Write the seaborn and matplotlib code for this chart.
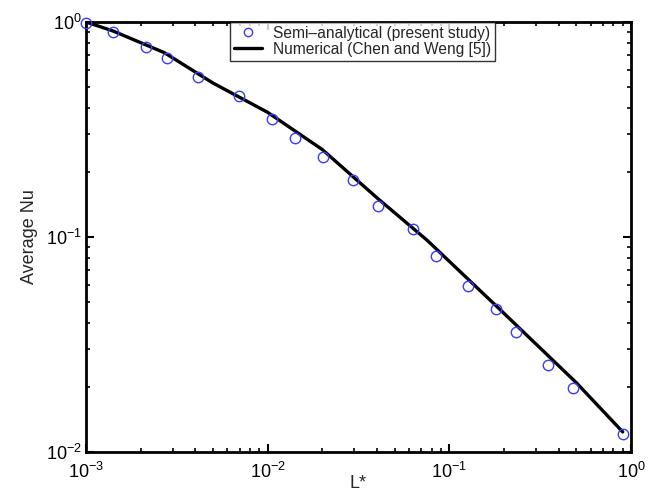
import matplotlib
matplotlib.use("Agg")
import matplotlib.pyplot as plt
import seaborn as sns
import numpy as np
import pandas as pd
from matplotlib.ticker import LogLocator, NullFormatter

# Semi-analytical (present study) markers
semi_x = [0.001, 0.0014, 0.00213, 0.0028, 0.00416, 0.00692, 0.0105, 0.0142, 0.0201,
          0.0294, 0.0404, 0.0631, 0.0849, 0.126, 0.181, 0.232, 0.351, 0.478, 0.908]
semi_y = [0.986, 0.90, 0.768, 0.678, 0.552, 0.453, 0.355, 0.289, 0.236,
          0.184, 0.139, 0.109, 0.082, 0.059, 0.0464, 0.0361, 0.0253, 0.0198, 0.0121]

# Numerical (Chen and Weng [5]) line
num_x = [0.001, 0.0014, 0.0027, 0.005, 0.01, 0.02, 0.04, 0.075, 0.19, 0.5, 0.9]
num_y = [1.0, 0.91, 0.72, 0.52, 0.38, 0.255, 0.152, 0.097, 0.046, 0.021, 0.0124]

label_semi = "Semi\u2013analytical (present study)"
label_num = "Numerical (Chen and Weng [5])"

sns.set_theme(style="ticks")
plt.rcParams['font.family'] = ['Liberation Sans', 'DejaVu Sans']
plt.rcParams['mathtext.fontset'] = 'custom'
plt.rcParams['mathtext.rm'] = 'Liberation Sans'
plt.rcParams['mathtext.it'] = 'Liberation Sans:italic'

fig = plt.figure(figsize=(6.6, 4.92), dpi=100)
ax = fig.add_axes([0.1303, 0.0813, 0.8258, 0.874])

df_semi = pd.DataFrame({"x": semi_x, "y": semi_y})
df_num = pd.DataFrame({"x": num_x, "y": num_y})

sns.lineplot(data=df_num, x="x", y="y", ax=ax, color="black", linewidth=2.4,
             label=label_num, sort=False)
ax.plot(df_semi["x"], df_semi["y"], linestyle="none", marker="o", markersize=7.5,
        markerfacecolor="none", markeredgecolor="#3b3bff", markeredgewidth=1.0,
        label=label_semi, zorder=3, clip_on=False)

ax.set_xscale("log")
ax.set_yscale("log")
ax.set_xlim(1e-3, 1e0)
ax.set_ylim(1e-2, 1e0)

ax.xaxis.set_major_locator(LogLocator(base=10, numticks=10))
ax.yaxis.set_major_locator(LogLocator(base=10, numticks=10))
ax.xaxis.set_minor_locator(LogLocator(base=10, subs=np.arange(2, 10), numticks=20))
ax.yaxis.set_minor_locator(LogLocator(base=10, subs=np.arange(2, 10), numticks=20))
ax.xaxis.set_minor_formatter(NullFormatter())
ax.yaxis.set_minor_formatter(NullFormatter())

ax.tick_params(which="both", direction="in", top=True, right=True, colors="black",
               labelsize=13)
ax.tick_params(axis="x", which="major", pad=7)
ax.tick_params(axis="y", which="major", pad=3)
ax.tick_params(which="major", length=6, width=1.5)
ax.tick_params(which="minor", length=3, width=1.2)
for s in ax.spines.values():
    s.set_linewidth(2.0)
    s.set_color("black")

ax.set_xlabel("L*", fontsize=13, labelpad=-5)
ax.set_ylabel("Average Nu", fontsize=13, labelpad=6)

handles, labels = ax.get_legend_handles_labels()
order = [labels.index(label_semi), labels.index(label_num)]
leg = ax.legend([handles[i] for i in order], [labels[i] for i in order],
                loc="upper center", bbox_to_anchor=(0.508, 1.0), borderaxespad=0.0,
                fontsize=11.2, frameon=True, fancybox=False, edgecolor="black",
                handlelength=1.8, borderpad=0.25, labelspacing=0.05,
                handletextpad=0.7, markerscale=0.8)
leg.get_frame().set_linewidth(1.0)

fig.savefig("out.png", dpi=100)
